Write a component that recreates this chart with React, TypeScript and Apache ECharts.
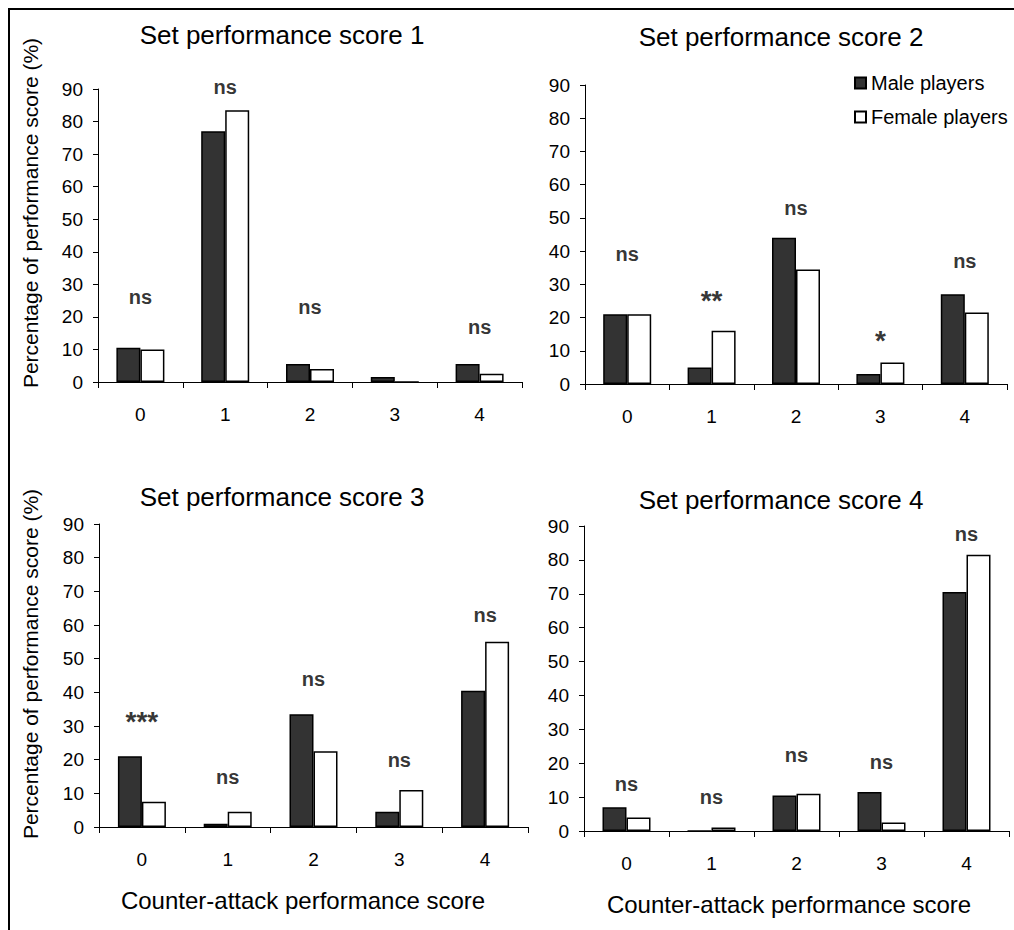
import React, { useEffect, useRef } from "react";
import * as echarts from "echarts";

const categories = ["0", "1", "2", "3", "4"];
const panelTitles = [
  "Set performance score 1",
  "Set performance score 2",
  "Set performance score 3",
  "Set performance score 4",
];
const seriesNames = ["Male players", "Female players"];
const yTitle = "Percentage of performance score (%)";
const xTitle = "Counter-attack performance score";

const male1 = [10.5, 77, 5.5, 1.5, 5.5];
const female1 = [10, 83.5, 4, 0, 2.5];
const male2 = [21, 5, 44, 3, 27];
const female2 = [21, 16, 34.5, 6.5, 21.5];
const male3 = [21, 1, 33.5, 4.5, 40.5];
const female3 = [7.5, 4.5, 22.5, 11, 55];
const male4 = [7, 0, 10.5, 11.5, 70.5];
const female4 = [4, 1, 11, 2.5, 81.5];

const sig1 = ["ns", "ns", "ns", "", "ns"];
const sigY1 = [26, 90.5, 23, 0, 17];
const sig2 = ["ns", "**", "ns", "*", "ns"];
const sigY2 = [39, 27, 53, 15, 37];
const sig3 = ["***", "ns", "ns", "ns", "ns"];
const sigY3 = [33, 15, 44, 20, 63];
const sig4 = ["ns", "ns", "ns", "ns", "ns"];
const sigY4 = [14, 10, 22.5, 20.5, 87.5];

const FONT = "'Liberation Sans', Arial, sans-serif";

export default function App() {
  const ref = useRef<HTMLDivElement>(null);
  useEffect(() => {
    document.body.style.margin = "0";
    const chart = echarts.init(ref.current!, null, { renderer: "svg" });

    const grids = [
      { left: 98, top: 89, width: 424, height: 293 },
      { left: 585, top: 85, width: 422, height: 299 },
      { left: 99, top: 524, width: 429, height: 303 },
      { left: 584, top: 526, width: 425, height: 305 },
    ];
    const males = [male1, male2, male3, male4];
    const females = [female1, female2, female3, female4];
    const sigs = [sig1, sig2, sig3, sig4];
    const sigYs = [sigY1, sigY2, sigY3, sigY4];

    const series: any[] = [];
    for (let g = 0; g < 4; g++) {
      series.push({
        type: "bar",
        name: seriesNames[0],
        xAxisIndex: g,
        yAxisIndex: g,
        data: males[g],
        barWidth: 24,
        barGap: "0%",
        itemStyle: { color: "#333333", borderColor: "#000", borderWidth: 1.5 },
      });
      series.push({
        type: "bar",
        name: seriesNames[1],
        xAxisIndex: g,
        yAxisIndex: g,
        data: females[g],
        barWidth: 24,
        barGap: "0%",
        itemStyle: { color: "#ffffff", borderColor: "#000", borderWidth: 1.5 },
      });
      const pts: any[] = [];
      sigs[g].forEach((s, i) => {
        if (!s) return;
        const star = s.indexOf("*") >= 0;
        pts.push({
          name: s,
          value: [i, sigYs[g][i]],
          label: star
            ? { fontSize: 28, fontWeight: "bold", offset: [0, 6] }
            : {},
        });
      });
      series.push({
        type: "scatter",
        name: "sig" + g,
        xAxisIndex: g,
        yAxisIndex: g,
        symbolSize: 1,
        clip: false,
        itemStyle: { color: "rgba(0,0,0,0)" },
        data: pts,
        label: {
          show: true,
          position: "inside",
          formatter: (p: any) => p.data.name,
          fontFamily: FONT,
          fontSize: 20,
          fontWeight: "bold",
          color: "#000",
        },
      });
    }

    const xAxes = grids.map((_, g) => ({
      type: "category",
      gridIndex: g,
      data: categories,
      boundaryGap: true,
      axisLine: { show: true, lineStyle: { color: "#000", width: 1 } },
      axisTick: { show: true, alignWithLabel: false, interval: 0, length: 6, lineStyle: { color: "#000" } },
      axisLabel: { color: "#000", fontSize: 19, fontFamily: FONT, margin: 23 },
      splitLine: { show: false },
    }));
    const yAxes = grids.map((_, g) => ({
      type: "value",
      gridIndex: g,
      min: 0,
      max: 90,
      interval: 10,
      axisLine: { show: true, lineStyle: { color: "#000", width: 1 } },
      axisTick: { show: true, length: 5, lineStyle: { color: "#000" } },
      axisLabel: { color: "#000", fontSize: 19, fontFamily: FONT, margin: 15 },
      splitLine: { show: false },
    }));

    const titlePos = [
      [282, 35],
      [781, 37],
      [282, 497],
      [781, 500],
    ];
    const graphics: any[] = [
      { type: "line", shape: { x1: 8, y1: 9, x2: 1014, y2: 9 }, style: { stroke: "#000", lineWidth: 2 } },
      { type: "line", shape: { x1: 9, y1: 8, x2: 9, y2: 930 }, style: { stroke: "#000", lineWidth: 2 } },
    ];
    titlePos.forEach((p, i) => {
      graphics.push({
        type: "text",
        x: p[0],
        y: p[1],
        style: {
          text: panelTitles[i],
          font: `26px ${FONT}`,
          fill: "#000",
          textAlign: "center",
          textVerticalAlign: "middle",
        },
      });
    });
    [[30, 213], [30, 664]].forEach((p) => {
      graphics.push({
        type: "text",
        x: p[0],
        y: p[1],
        rotation: Math.PI / 2,
        style: {
          text: yTitle,
          font: `21px ${FONT}`,
          fill: "#000",
          textAlign: "center",
          textVerticalAlign: "middle",
        },
      });
    });
    [[303, 900], [789, 904]].forEach((p) => {
      graphics.push({
        type: "text",
        x: p[0],
        y: p[1],
        style: {
          text: xTitle,
          font: `24px ${FONT}`,
          fill: "#000",
          textAlign: "center",
          textVerticalAlign: "middle",
        },
      });
    });

    chart.setOption({
      animation: false,
      backgroundColor: "#ffffff",
      textStyle: { fontFamily: FONT },
      legend: {
        data: seriesNames,
        orient: "vertical",
        left: 854,
        top: 73,
        padding: 0,
        itemWidth: 11,
        itemHeight: 11,
        itemGap: 14,
        icon: "rect",
        textStyle: { fontSize: 20, color: "#000", fontFamily: FONT },
      },
      grid: grids,
      xAxis: xAxes,
      yAxis: yAxes,
      series,
      graphic: graphics,
    });
    return () => chart.dispose();
  }, []);
  return <div ref={ref} style={{ width: 1014, height: 930 }} />;
}
